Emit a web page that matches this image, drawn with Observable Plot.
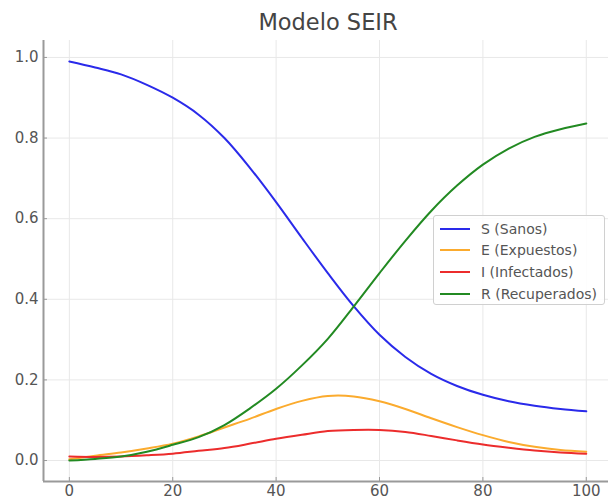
<!DOCTYPE html>
<html>
<head>
<meta charset="utf-8">
<script src="https://cdn.jsdelivr.net/npm/d3@7"></script>
<script src="https://cdn.jsdelivr.net/npm/@observablehq/plot@0.6"></script>
<style>
  body { margin: 0; background: #fff; font-family: "DejaVu Sans", sans-serif; }
  #wrap { position: relative; width: 608px; height: 500px; overflow: hidden; }
  #title { position: absolute; left: 0; top: 9px; width: 656px; text-align: center; font-size: 22.5px; color: #444; }
  #legend { position: absolute; left: 433px; top: 215px; width: 172px; height: 90px; border: 1px solid #d0d0d0; border-radius: 3px; background: rgba(255,255,255,0.85); box-sizing: border-box; font-size: 14px; color: #555; }
  .row { position: absolute; left: 0; height: 20px; display: flex; align-items: center; }
  .sw { width: 30px; height: 2px; margin-left: 6px; margin-right: 11px; }
</style>
</head>
<body>
<div id="wrap">
  <div id="chart"></div>
  <div id="title">Modelo SEIR</div>
  <div id="legend"></div>
</div>
<script>
const dias = [0,5,10,15,20,25,30,35,40,45,50,55,60,65,70,75,80,85,90,95,100];
const sanos =       [0.99,0.975,0.958,0.932,0.900,0.858,0.800,0.725,0.641,0.552,0.465,0.383,0.312,0.257,0.215,0.185,0.163,0.147,0.136,0.128,0.122];
const expuestos =   [0.003,0.012,0.020,0.030,0.042,0.060,0.082,0.104,0.128,0.148,0.160,0.159,0.147,0.128,0.105,0.083,0.063,0.046,0.034,0.026,0.022];
const infectados =  [0.010,0.009,0.010,0.013,0.017,0.024,0.031,0.042,0.054,0.064,0.073,0.076,0.076,0.071,0.061,0.050,0.040,0.032,0.025,0.020,0.017];
const recuperados = [0.000,0.004,0.010,0.022,0.039,0.058,0.088,0.130,0.178,0.236,0.302,0.382,0.465,0.545,0.619,0.682,0.734,0.774,0.803,0.822,0.836];

const nombres = ["S (Sanos)", "E (Expuestos)", "I (Infectados)", "R (Recuperados)"];
const colores = ["#2a2aea", "#fbab2e", "#ec2c2c", "#228a22"];
const series = [sanos, expuestos, infectados, recuperados];

const xTicks = [0,20,40,60,80,100];
const yTicks = [0,0.2,0.4,0.6,0.8,1.0];
const xDom = [-5, 104.3];
const yDom = [-0.052, 1.042];

const rows = [];
series.forEach((s, k) => s.forEach((v, i) => rows.push({t: dias[i], v, serie: nombres[k]})));

const spine = "#9a9a9a";
const chart = Plot.plot({
  width: 608, height: 500,
  marginLeft: 43, marginRight: 0, marginTop: 40, marginBottom: 19,
  style: { fontFamily: "DejaVu Sans, sans-serif", fontSize: "15px", color: "#555", background: "#fff" },
  x: { domain: xDom },
  y: { domain: yDom },
  color: { domain: nombres, range: colores },
  marks: [
    Plot.gridX(xTicks, { stroke: "#e8e8e8", strokeOpacity: 1 }),
    Plot.gridY(yTicks, { stroke: "#e8e8e8", strokeOpacity: 1 }),
    Plot.line(rows, { x: "t", y: "v", z: "serie", stroke: "serie", strokeWidth: 2, curve: "catmull-rom" }),
    Plot.tickX(xTicks, { x: d => d, insetTop: 437, stroke: spine }),
    Plot.tickY(yTicks, { y: d => d, insetRight: 561, stroke: spine }),
    Plot.ruleX([xDom[0]], { stroke: spine, strokeWidth: 2 }),
    Plot.ruleY([yDom[0]], { stroke: spine, strokeWidth: 2 }),
    Plot.axisX(xTicks, { tickSize: 0, tickPadding: 4, label: null }),
    Plot.axisY(yTicks, { tickSize: 0, tickPadding: 5, label: null, tickFormat: d3.format(".1f") })
  ]
});
document.getElementById("chart").appendChild(chart);

const legend = document.getElementById("legend");
nombres.forEach((n, i) => {
  const r = document.createElement("div");
  r.className = "row";
  r.style.top = (2.5 + i * 21.7) + "px";
  const sw = document.createElement("div");
  sw.className = "sw";
  sw.style.background = colores[i];
  const tx = document.createElement("span");
  tx.textContent = n;
  r.appendChild(sw); r.appendChild(tx);
  legend.appendChild(r);
});
</script>
</body>
</html>
